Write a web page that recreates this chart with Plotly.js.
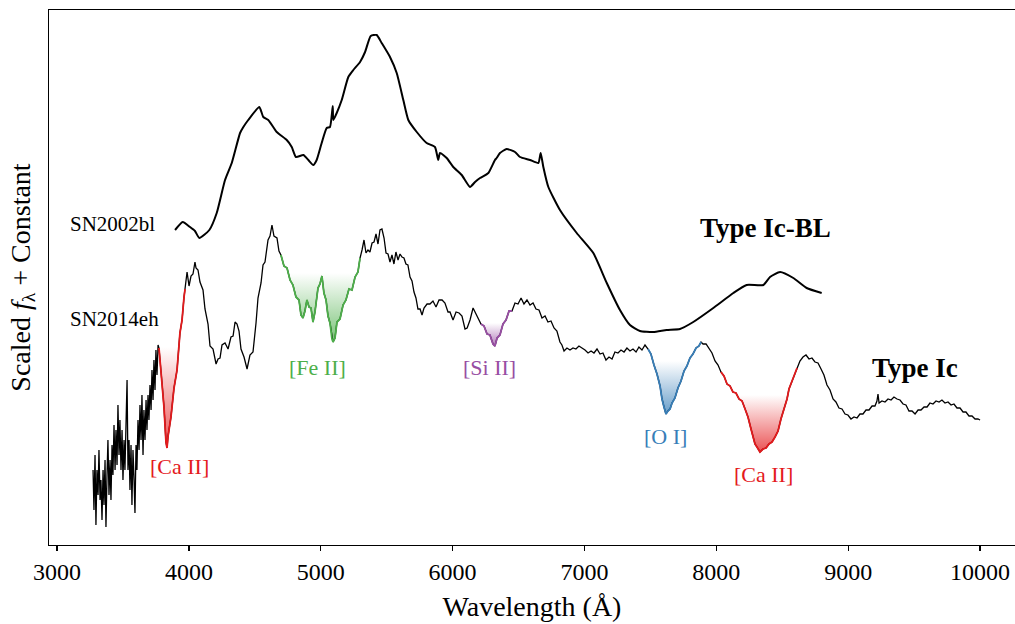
<!DOCTYPE html>
<html>
<head>
<meta charset="utf-8">
<script src="https://cdn.plot.ly/plotly-3.0.1.min.js"></script>
<style>html,body{margin:0;padding:0;background:#fff;}#chart{width:1015px;height:624px;}</style>
</head>
<body>
<div id="chart"></div>
<script>
// ---------------- DATA ----------------
// SN2002bl (Type Ic-BL), wavelength in Angstrom, scaled flux + constant
const wl02 = [3895,3953,4008,4046,4079,4155,4211,4274,4325,4388,4413,4450,4534,4564,4602,4666,4742,4780,4812,4868,
  4906,4943,4969,5007,5045,5070,5091,5095,5121,5159,5209,5247,5298,5336,5379,5424,5462,5525,5576,5626,
  5664,5728,5803,5866,5891,5904,5955,6005,6069,6132,6170,6208,6271,6321,6334,6359,6410,6473,6511,6587,
  6650,6668,6688,6726,6814,6941,7067,7169,7269,7345,7421,7522,7623,7724,7825,7977,8129,8230,8356,8407,
  8483,8584,8685,8799];
const flux02 = [31.5,32.3,31.8,31.4,30.7,31.5,33.2,36.5,38.2,41.2,41.8,42.5,43.8,42.8,42.5,41.3,40.5,39.8,38.8,39.0,
  38.5,38.0,38.5,40.2,41.7,41.8,43.9,42.5,43.2,44.5,46.8,47.5,48.3,49.3,50.9,51.0,50.2,48.8,47.2,44.5,
  42.5,41.3,40.2,39.8,38.5,39.2,38.7,37.8,37.0,35.8,36.3,36.7,37.2,38.5,38.7,39.2,39.6,39.3,38.8,38.5,
  38.2,39.2,37.8,35.8,33.5,31.2,29.2,26.2,23.5,22.0,21.4,21.3,21.5,21.6,22.3,23.7,25.2,26.0,26.0,26.8,
  27.3,26.7,25.7,25.2];

// SN2014eh (Type Ic)
const wl14 = [
  3273,3280,3288,3295,3303,3311,3318,3326,3333,3341,
  3349,3356,3364,3371,3379,3386,3394,3402,3409,3417,
  3424,3432,3440,3447,3455,3462,3470,3477,3485,3493,
  3500,3508,3515,3523,3531,3538,3546,3553,3561,3568,
  3576,3584,3591,3599,3606,3614,3622,3629,3637,3644,
  3652,3659,3667,3675,3682,3690,3697,3705,3713,3720,
  3728,3735,3743,3750,3758,3766,
  3773,3796,3811,3826,3834,3842,3864,3887,3910,3932,
  3948,3963,3971,3986,4001,4016,4031,4046,4054,4069,
  4084,4107,4122,4145,4160,4183,4206,4221,4236,4251,
  4274,4297,4319,4335,4350,4365,4380,4395,4418,4441,
  4463,4486,4509,4524,4547,4562,4577,4600,4615,4630,
  4645,4668,4683,4698,4721,4744,4767,4789,4812,4835,
  4850,4865,4880,4895,4911,4926,4941,4956,4979,4994,
  5009,5024,5040,5055,5070,5085,5093,5108,5123,5146,
  5169,5191,5214,5237,5260,5282,5298,5313,5328,5343,
  5358,5373,5389,5404,5419,5434,5449,5464,5480,5495,
  5510,5525,5540,5555,5570,5586,5601,5616,5631,5646,
  5661,5677,5692,5707,5722,5737,5753,5768,5783,5806,
  5828,5851,5874,5897,5920,5942,5965,5980,6003,6026,
  6049,6071,6094,6110,6132,6155,6178,6193,6215,6238,
  6261,6283,6306,6321,6337,6359,6382,6405,6428,6450,
  6473,6496,6519,6541,6564,6587,6610,6632,6655,6678,
  6701,6723,6746,6769,6791,6814,6829,6845,6867,6890,
  6913,6935,6958,6981,7004,7027,7050,7072,7095,7118,
  7140,7163,7186,7209,7231,7254,7277,7300,7322,7345,
  7368,7391,7413,7436,7459,7482,7504,7527,7550,7573,
  7588,7603,7618,7633,7649,7664,7686,7709,7732,7755,
  7777,7800,7823,7846,7868,7884,7899,7922,7944,7967,
  7990,8013,8035,8058,8081,8104,8126,8149,8172,8195,
  8218,8240,8263,8278,8293,8308,8331,8354,8377,8399,
  8422,8445,8468,8490,8505,8521,8536,8551,8566,8589,
  8612,8634,8657,8680,8703,8725,8748,8771,8794,8816,
  8839,8862,8885,8907,8930,8953,8976,8998,9021,9044,
  9067,9089,9112,9135,9158,9181,9203,9218,9226,9234,
  9256,9279,9302,9325,9347,9370,9393,9416,9438,9461,
  9484,9507,9530,9552,9575,9598,9620,9643,9666,9689,
  9711,9734,9757,9780,9802,9825,9848,9871,9893,9916,
  9939,9962,9984,10000];
const flux14 = [
  7.5,3.5,9.0,2.0,7.5,5.0,9.5,4.5,6.5,2.5,
  7.5,4.0,8.5,1.8,7.0,10.5,5.0,8.5,4.5,10.0,
  7.0,12.0,7.5,11.5,8.0,14.0,9.0,12.5,7.5,11.5,
  6.5,10.5,7.5,11.5,16.5,7.5,10.5,5.5,10.0,4.0,
  9.5,6.5,3.2,10.0,7.5,12.5,9.5,14.0,10.5,15.0,
  9.0,13.5,10.5,14.5,11.5,15.0,12.5,16.0,13.5,17.5,
  14.5,18.5,15.5,19.5,17.0,20.0,
  19.7,16.2,13.8,10.3,9.7,10.9,12.8,15.7,17.5,21.2,
  22.5,24.8,25.6,27.3,25.9,26.9,27.1,28.3,27.7,27.5,
  26.3,25.5,23.6,22.1,19.9,19.6,18.1,18.6,18.7,20.0,
  20.2,19.6,20.8,20.9,22.3,22.1,21.4,19.6,18.8,17.6,
  19.0,19.3,22.2,24.7,26.2,28.0,28.3,30.5,30.9,32.0,
  30.9,30.7,29.4,29.0,27.9,27.7,26.5,26.0,24.8,24.5,
  23.0,22.7,23.4,24.5,23.8,23.7,22.3,23.3,25.7,26.1,
  26.9,25.2,24.5,22.9,22.2,20.6,20.3,20.7,22.3,22.6,
  24.0,24.5,25.6,25.5,26.8,27.3,28.7,29.5,30.5,29.2,
  29.5,29.3,30.2,30.3,31.1,30.1,31.5,31.6,30.7,29.2,
  29.1,28.3,29.0,28.1,29.3,28.5,29.1,28.8,28.7,28.1,
  28.0,26.8,26.4,25.3,24.7,23.6,23.6,23.0,23.7,24.1,
  24.1,24.4,23.8,24.5,24.5,24.2,23.3,23.3,22.5,23.3,
  23.2,22.9,21.6,21.7,22.5,23.7,23.1,22.8,22.1,21.9,
  21.1,21.0,20.1,19.9,20.7,21.0,22.1,22.5,23.4,23.4,
  24.2,24.1,24.7,24.1,24.5,24.0,24.2,23.6,23.5,22.7,
  22.9,22.3,22.4,21.7,21.4,20.3,20.0,19.4,19.7,19.5,
  19.7,19.6,19.9,19.7,19.5,19.2,19.4,19.2,19.6,19.1,
  19.2,18.5,18.8,18.6,19.3,19.2,19.5,19.3,19.7,19.4,
  19.6,19.3,19.8,19.5,20.0,19.6,19.1,18.0,17.1,15.9,
  14.6,13.8,13.1,13.4,13.6,14.2,14.7,15.7,16.4,17.4,
  17.9,18.7,19.1,19.7,19.9,20.3,20.1,20.1,19.6,19.2,
  18.4,18.0,17.3,16.9,16.1,15.9,15.3,15.2,14.6,14.4,
  13.6,12.8,11.6,10.9,10.1,9.8,9.3,9.6,9.7,10.1,
  10.3,10.8,11.4,12.6,13.2,14.0,14.6,15.6,16.1,17.0,
  17.7,18.4,18.8,19.0,18.6,18.7,18.3,18.2,17.6,17.0,
  16.0,15.5,14.6,14.3,13.7,13.6,13.1,13.0,12.6,12.8,
  12.7,13.1,13.1,13.5,13.5,13.9,13.9,14.4,15.1,14.2,
  14.4,14.3,14.6,14.5,14.8,14.6,14.5,14.1,14.0,13.4,
  13.4,13.1,13.5,13.5,13.8,13.8,14.2,14.1,14.4,14.3,
  14.5,14.2,14.3,14.0,14.1,13.7,13.7,13.3,13.3,12.9,
  12.9,12.6,12.6,12.5];

// Nebular line features of SN2014eh
const featureNames = ['[Ca II]', '[Fe II]', '[Si II]', '[O I]', '[Ca II]'];
const featureStart = [3773, 4698, 6215, 7482, 8035];
const featureEnd   = [3971, 5298, 6450, 7884, 8612];
const featureLevel = [19.8, 27.2, 22.2, 18.4, 15.0];

const xTicks = [3000, 4000, 5000, 6000, 7000, 8000, 9000, 10000];

// ---------------- STYLE ----------------
const FONT = 'Liberation Serif, Times New Roman, serif';
const featureRGB = ['228,26,28', '77,175,74', '152,78,163', '55,126,184', '228,26,28'];
const featureLabelPos = [[3932, 7.9], [4979, 17.8], [6283, 17.8], [7618, 10.9], [8354, 7.1]];

const traces = [];

// gradient fills under each feature
featureNames.forEach((name, k) => {
  const xs = [], ys = [];
  wl14.forEach((w, i) => { if (w >= featureStart[k] && w <= featureEnd[k]) { xs.push(w); ys.push(flux14[i]); } });
  const L = featureLevel[k];
  const clipped = ys.map(v => Math.min(v, L));
  const lo = Math.min(...clipped);
  const px = xs.concat(xs.slice().reverse());
  const py = clipped.concat(xs.map(() => L));
  traces.push({
    x: px, y: py, mode: 'lines', fill: 'toself', line: {width: 0, color: 'rgba(0,0,0,0)'},
    fillcolor: 'rgba(' + featureRGB[k] + ',0.4)',
    fillgradient: {type: 'vertical', start: lo, stop: L,
      colorscale: [[0, 'rgba(' + featureRGB[k] + ',0.75)'], [1, 'rgba(' + featureRGB[k] + ',0)']]},
    hoverinfo: 'skip', showlegend: false
  });
});

traces.push({x: wl02, y: flux02, mode: 'lines', line: {color: '#000', width: 2, shape: 'spline', smoothing: 0.5},
  name: 'SN2002bl', showlegend: false});
traces.push({x: wl14, y: flux14, mode: 'lines', line: {color: '#000', width: 1.3}, name: 'SN2014eh', showlegend: false});

featureNames.forEach((name, k) => {
  const xs = [], ys = [];
  wl14.forEach((w, i) => { if (w >= featureStart[k] && w <= featureEnd[k]) { xs.push(w); ys.push(flux14[i]); } });
  traces.push({x: xs, y: ys, mode: 'lines', line: {color: 'rgb(' + featureRGB[k] + ')', width: 1.8},
    name: name, showlegend: false});
});

const annotations = [
  {x: 3083, y: 32.1, text: 'SN2002bl', xanchor: 'left', yanchor: 'middle', font: {size: 21, color: '#000'}},
  {x: 3083, y: 22.6, text: 'SN2014eh', xanchor: 'left', yanchor: 'middle', font: {size: 21, color: '#000'}},
  {x: 8369, y: 31.7, text: '<b>Type Ic-BL</b>', xanchor: 'center', yanchor: 'middle', font: {size: 27, color: '#000'}},
  {x: 9507, y: 17.7, text: '<b>Type Ic</b>', xanchor: 'center', yanchor: 'middle', font: {size: 27, color: '#000'}}
];
featureNames.forEach((name, k) => {
  annotations.push({x: featureLabelPos[k][0], y: featureLabelPos[k][1], text: name, xanchor: 'center', yanchor: 'middle',
    font: {size: 22, color: 'rgb(' + featureRGB[k] + ')'}});
});
annotations.forEach(a => { a.showarrow = false; a.xref = 'x'; a.yref = 'y'; a.font.family = FONT; });

const layout = {
  width: 1015, height: 624,
  margin: {l: 49, r: 0, t: 10, b: 79},
  paper_bgcolor: '#fff', plot_bgcolor: '#fff',
  font: {family: FONT, color: '#000'},
  showlegend: false,
  xaxis: {
    range: [2939, 10265], tickvals: xTicks, ticktext: xTicks.map(String),
    ticks: 'outside', ticklen: 5, tickwidth: 1.2, tickcolor: '#000',
    showline: true, linecolor: '#000', linewidth: 1.3, mirror: true,
    showgrid: false, zeroline: false,
    tickfont: {family: FONT, size: 24, color: '#000'},
    title: {text: 'Wavelength (Å)', font: {family: FONT, size: 28, color: '#000'}, standoff: 12}
  },
  yaxis: {
    range: [0, 53.5], showline: true, linecolor: '#000', linewidth: 1.3, mirror: false,
    showticklabels: false, ticks: '', showgrid: false, zeroline: false,
    title: {text: 'Scaled <i>f</i><sub>λ</sub> + Constant', font: {family: FONT, size: 28, color: '#000'}, standoff: 9}
  },
  annotations: annotations
};

Plotly.newPlot('chart', traces, layout, {displayModeBar: false, staticPlot: true});
</script>
</body>
</html>
